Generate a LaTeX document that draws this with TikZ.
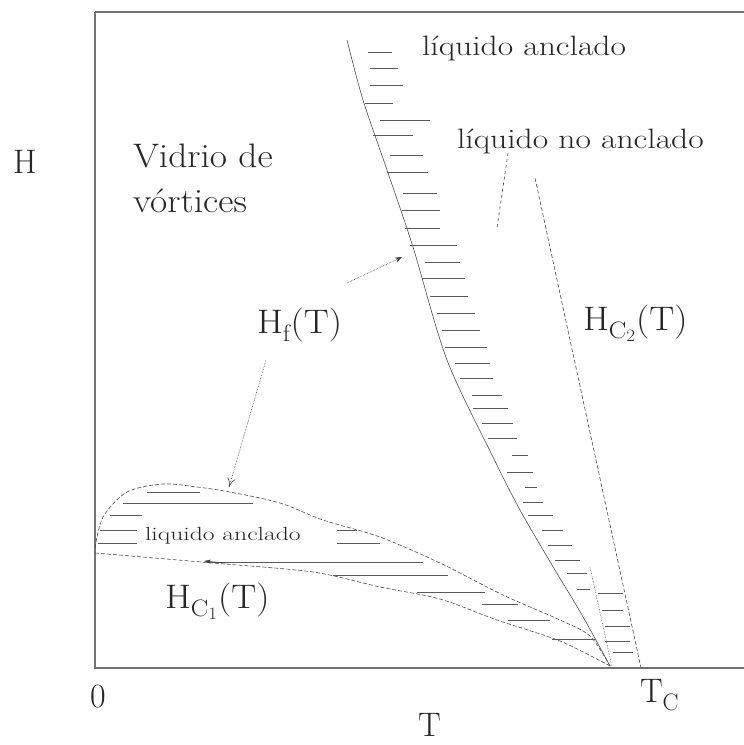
\documentclass[tikz,border=0pt]{standalone}
\usepackage{fontspec}
\usetikzlibrary{arrows.meta}
\newcommand{\fbig}{\fontsize{34}{40}\selectfont}
\newcommand{\fmid}{\fontsize{28}{32}\selectfont}
\newcommand{\fsml}{\fontsize{19}{22}\selectfont}
\newcommand{\sx}[2]{\scalebox{#1}[1]{#2}}
\tikzset{
  ax/.style={draw=black!55, line width=1.2pt},
  crv/.style={draw=black!70, line width=0.6pt},
  dcrv/.style={draw=black!70, line width=0.6pt, dash pattern=on 4pt off 2pt},
  hatchln/.style={draw=black!65, line width=0.8pt},
  lbl/.style={inner sep=0pt, outer sep=0pt, anchor=base west, text=black!85},
  ptr/.style={draw=black!75, line width=0.6pt},
}
\begin{document}
\begin{tikzpicture}[x=1pt,y=-1pt]
\useasboundingbox (0,0) rectangle (744,745);
% frame / axes
\draw[ax] (95,12) -- (744,12);
\draw[ax] (95,12) -- (95,668) -- (744,668);
% labels
\node[lbl] (hax) at (13,173) {\fbig H};
\node[lbl] (vid) at (133,167) {\fbig\sx{1.1}{Vidrio de}};
\node[lbl] (vor) at (133,212) {\fbig\sx{1.1}{vórtices}};
\node[lbl] (la1) at (422,55) {\fmid\sx{1.2}{líquido anclado}};
\node[lbl] (lna) at (457,148) {\fmid\sx{1.2}{líquido no anclado}};
\node[lbl] (la2) at (145,540) {\fsml\sx{1.35}{liquido anclado}};
\node[lbl] (hf) at (257,333) {\fbig\sx{1.1}{H$_{\mathrm{f}}$(T)}};
\node[lbl] (hc2) at (583,330) {\fbig\sx{1.1}{H$_{\mathrm{C}_2}$(T)}};
\node[lbl] (hc1) at (165,608) {\fbig\sx{1.1}{H$_{\mathrm{C}_1}$(T)}};
\node[lbl] (zero) at (90,707) {\fbig 0};
\node[lbl] (tc) at (640,702) {\fbig T$_{\mathrm{C}}$};
\node[lbl] (tax) at (418,736) {\fbig T};
% upper melting line Hf(T)
\draw[crv] plot[smooth] coordinates {(347,40) (363,100) (387,170) (413,247) (447,360) (493,457) (520,510) (552,565) (582,615) (610,666)};
% lower (reentrant) branch
\draw[dcrv] plot[smooth] coordinates {(95,548) (103,517) (127,492) (163,484) (197,487) (230,492) (280,503) (323,520) (380,537) (440,563) (503,595) (560,620) (590,636) (610,666)};
% Hc1
\draw[dcrv] plot[smooth] coordinates {(95,553) (213,563) (313,572) (380,587) (440,599) (497,620) (560,641) (610,666)};
% Hc2
\draw[dcrv] (535,178) -- (641,668);
% steep dotted segment near Tc
\draw[crv, densely dotted] (590,567) -- (612,667);
% hatching upper band
\foreach \y/\a/\b in {52/368/392, 68/370/398, 85/370/403, 103/365/393, 120/380/430, 135/373/413, 155/390/423, 172/387/428, 193/403/437, 210/402/440, 228/405/440, 245/410/457, 262/425/460, 278/422/465, 296/430/468, 313/437/475, 330/442/480, 347/445/487, 363/455/490, 378/460/493, 395/472/502, 408/473/508, 423/482/513, 438/488/517, 455/512/528, 472/507/533, 487/525/537, 502/523/543, 515/528/553, 530/542/563, 545/548/572, 560/555/580, 573/567/587, 589/577/590, 593/598/623, 610/602/623, 626/605/630, 641/605/630, 652/613/633}
  \draw[hatchln] (\a,\y) -- (\b,\y);
% hatching lower lobe
\foreach \y/\a/\b in {492/147/200, 503/123/253, 515/110/142, 530/100/137, 530/337/357, 543/98/137, 543/337/380, 562/207/423, 575/333/448, 592/417/485, 604/482/518, 620/508/550, 639/552/595}
  \draw[hatchln] (\a,\y) -- (\b,\y);
% pointers
\coordinate (p1s) at (347,283);
\coordinate (p1e) at (402,257);
\coordinate (p2s) at (266,360);
\coordinate (p2e) at (229,487);
\coordinate (p3s) at (508,153);
\coordinate (p3e) at (497,228);
\coordinate (p4s) at (226,563);
\coordinate (p4e) at (204,561);
\draw[ptr, densely dotted, -{Stealth[length=7pt,width=5pt]}] (p1s) -- (p1e);
\draw[ptr, densely dotted, -{To[length=9pt,width=8pt]}] (p2s) -- (p2e);
\draw[ptr, dashed] (p3s) -- (p3e);
\draw[ptr, -{Stealth[length=7pt,width=4pt]}] (p4s) -- (p4e);
\end{tikzpicture}
\end{document}
